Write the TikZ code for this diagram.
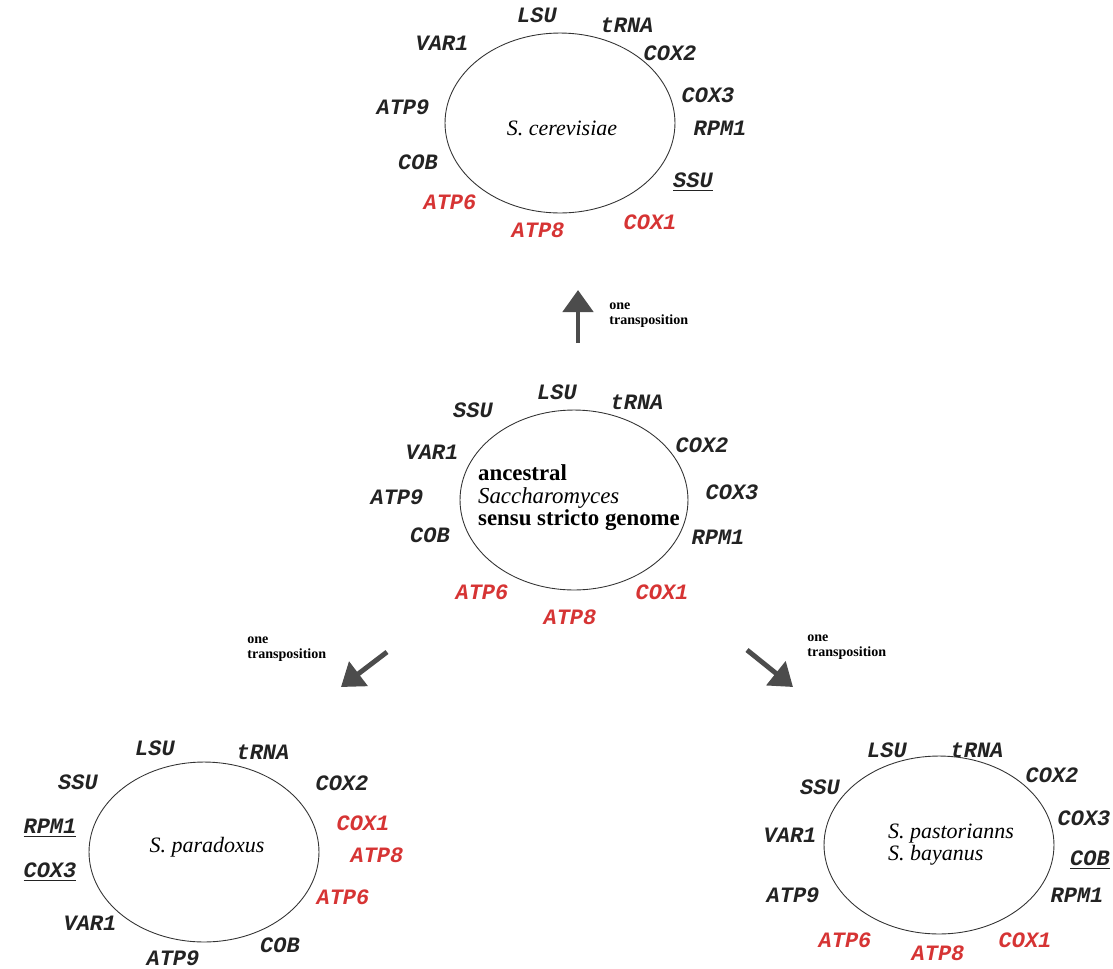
\documentclass[tikz,border=0pt]{standalone}
\usepackage{fontspec}
\setmainfont{Liberation Serif}
\newfontfamily\genefont{Liberation Mono}
\usepackage{tikz}
\usetikzlibrary{shapes.geometric, arrows.meta, positioning}
\definecolor{movedred}{RGB}{214,52,52}
\definecolor{geneink}{RGB}{35,35,35}
\tikzset{
    x=0.02cm, y=-0.02cm, % one unit is one pixel of the figure
    genome/.style={draw=black!80, line width=0.5pt, ellipse, minimum width=4.6cm, minimum height=3.6cm, inner sep=0pt}, % the circular genome
    gene/.style={font=\genefont\bfseries\itshape\fontsize{12.5}{12.5}\selectfont, text=geneink, inner sep=1pt}, % a gene on the genome
    moved/.style={gene, text=movedred}, % genes of the moved block
    transpose/.style={draw=black!70, line width=2.8pt, -{Triangle[width=0.6cm, length=0.44cm]}}, % big grey arrows
    note/.style={font=\bfseries\fontsize{8}{8.5}\selectfont, align=left, inner sep=0pt, anchor=west}, % arrow labels
}

\begin{document}
\begin{tikzpicture}[
                                species/.style={font=\itshape\fontsize{12.5}{12.5}\selectfont, align=left},
                            ]
                            \useasboundingbox (0,0) rectangle (1113,968);
                            % S. cerevisiae
                            \node[genome] (cer) at (560,123) {};
                            \node[species] (cerName) at (562,128) {S. cerevisiae};
                            \node[gene] (cerLSU) at (537,15) {LSU};
                            \node[gene] (cerTRNA) at (627,25) {tRNA};
                            \node[gene] (cerVAR) at (442,43) {VAR1};
                            \node[gene] (cerCOXb) at (670,53) {COX2};
                            \node[gene] (cerCOXc) at (708,95) {COX3};
                            \node[gene] (cerATPn) at (403,107) {ATP9};
                            \node[gene] (cerRPM) at (720,128) {RPM1};
                            \node[gene] (cerCOB) at (418,162) {COB};
                            \node[gene] (cerSSU) at (693,182) {\underline{SSU}};
                            \node[moved] (cerATPf) at (450,202) {ATP6};
                            \node[moved] (cerCOXa) at (650,222) {COX1};
                            \node[moved] (cerATPe) at (538,230) {ATP8};

                            % ancestral genome
                            \node[genome, minimum width=4.56cm] (anc) at (574,500) {};
                            \node[align=left, font=\bfseries\fontsize{13}{12.8}\selectfont] (ancName) at (579,498)
                                {ancestral\\\textmd{\textit{Saccharomyces}}\\sensu stricto genome};
                            \node[gene] (ancLSU) at (557,392) {LSU};
                            \node[gene] (ancTRNA) at (637,402) {tRNA};
                            \node[gene] (ancSSU) at (473,410) {SSU};
                            \node[gene] (ancVAR) at (432,452) {VAR1};
                            \node[gene] (ancCOXb) at (702,445) {COX2};
                            \node[gene] (ancATPn) at (397,497) {ATP9};
                            \node[gene] (ancCOXc) at (732,492) {COX3};
                            \node[gene] (ancCOB) at (430,535) {COB};
                            \node[gene] (ancRPM) at (718,537) {RPM1};
                            \node[moved] (ancATPf) at (482,592) {ATP6};
                            \node[moved] (ancCOXa) at (662,592) {COX1};
                            \node[moved] (ancATPe) at (570,617) {ATP8};

                            % S. paradoxus
                            \node[genome] (par) at (204,852) {};
                            \node[species] (parName) at (207,847) {S. paradoxus};
                            \node[gene] (parLSU) at (155,748) {LSU};
                            \node[gene] (parTRNA) at (263,752) {tRNA};
                            \node[gene] (parSSU) at (78,782) {SSU};
                            \node[gene] (parCOXb) at (342,783) {COX2};
                            \node[gene] (parRPM) at (50,828) {\underline{RPM1}};
                            \node[moved] (parCOXa) at (363,823) {COX1};
                            \node[moved] (parATPe) at (377,855) {ATP8};
                            \node[gene] (parCOXc) at (50,872) {\underline{COX3}};
                            \node[moved] (parATPf) at (343,897) {ATP6};
                            \node[gene] (parVAR) at (90,923) {VAR1};
                            \node[gene] (parCOB) at (280,945) {COB};
                            \node[gene] (parATPn) at (173,958) {ATP9};

                            % S. pastorianus and S. bayanus
                            \node[genome, minimum height=3.56cm] (bay) at (939,845) {};
                            \node[species] (bayName) at (951,845) {S. pastorianns\\S. bayanus};
                            \node[gene] (bayLSU) at (887,750) {LSU};
                            \node[gene] (bayTRNA) at (977,750) {tRNA};
                            \node[gene] (baySSU) at (820,787) {SSU};
                            \node[gene] (bayCOXb) at (1052,775) {COX2};
                            \node[gene] (bayCOXc) at (1084,818) {COX3};
                            \node[gene] (bayVAR) at (790,835) {VAR1};
                            \node[gene] (bayCOB) at (1090,860) {\underline{COB}};
                            \node[gene] (bayATPn) at (793,895) {ATP9};
                            \node[gene] (bayRPM) at (1077,895) {RPM1};
                            \node[moved] (bayATPf) at (845,940) {ATP6};
                            \node[moved] (bayCOXa) at (1025,940) {COX1};
                            \node[moved] (bayATPe) at (938,953) {ATP8};

                            % transpositions
                            \coordinate (upTail) at (578,343);
                            \coordinate (upTip) at (578,290);
                            \coordinate (leftTail) at (387,652);
                            \coordinate (leftTip) at (341,687);
                            \coordinate (rightTail) at (747,650);
                            \coordinate (rightTip) at (793,687);
                            \draw[transpose] (upTail) -- (upTip);
                            \draw[transpose] (leftTail) -- (leftTip);
                            \draw[transpose] (rightTail) -- (rightTip);
                            \node[note] (upNote) at (609,315) {one\\transposition};
                            \node[note] (leftNote) at (247,649) {one\\transposition};
                            \node[note] (rightNote) at (807,647) {one\\transposition};
                        \end{tikzpicture}
\end{document}
